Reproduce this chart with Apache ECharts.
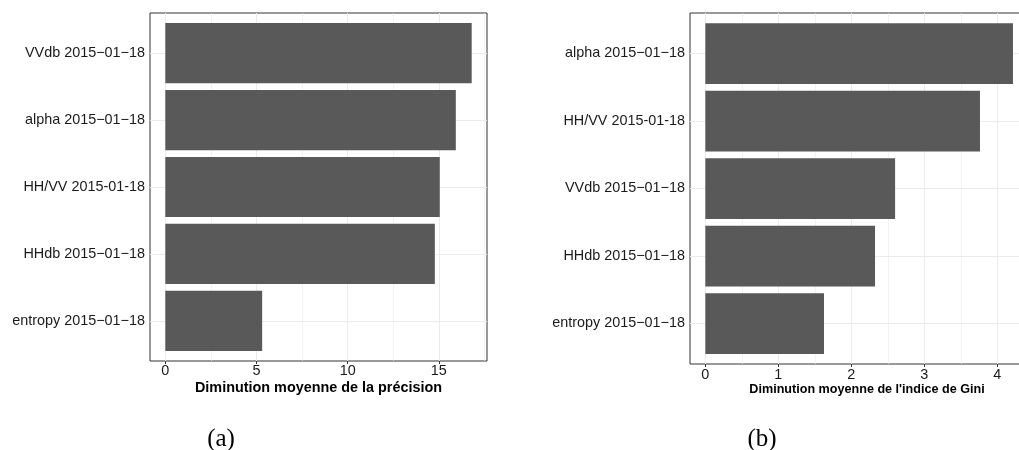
<!DOCTYPE html>
<html>
<head>
<meta charset="utf-8">
<script src="https://cdn.jsdelivr.net/npm/echarts@6/dist/echarts.min.js"></script>
<style>
  html, body { margin: 0; padding: 0; background: #ffffff; }
  #chart { width: 1019px; height: 450px; }
</style>
</head>
<body>
<div id="chart"></div>
<script>
// ---- data ----
const leftCategories = ['VVdb 2015\u221201\u221218', 'alpha 2015\u221201\u221218', 'HH/VV 2015-01-18', 'HHdb 2015\u221201\u221218', 'entropy 2015\u221201\u221218'];
const leftValues = [16.8, 15.93, 15.05, 14.78, 5.31];
const leftMajorTicks = [0, 5, 10, 15];
const leftMinorTicks = [2.5, 7.5, 12.5, 17.5];
const leftTitle = 'Diminution moyenne de la précision';
const leftCaption = '(a)';

const rightCategories = ['alpha 2015\u221201\u221218', 'HH/VV 2015-01-18', 'VVdb 2015\u221201\u221218', 'HHdb 2015\u221201\u221218', 'entropy 2015\u221201\u221218'];
const rightValues = [4.215, 3.763, 2.60, 2.325, 1.626];
const rightMajorTicks = [0, 1, 2, 3, 4];
const rightMinorTicks = [0.5, 1.5, 2.5, 3.5, 4.5];
const rightTitle = "Diminution moyenne de l'indice de Gini";
const rightCaption = '(b)';

// ---- styling / layout ----
const FONT = '"Liberation Sans", Arial, Helvetica, sans-serif';
const GRID_COLOR = '#ebebeb';
const BORDER_COLOR = '#333333';
const BAR_COLOR = '#595959';

function panel(cfg, gi, xi, yi) {
  const frameTop = cfg.top, frameH = cfg.height;
  const unit = frameH / 5.2;
  const grids = [
    { left: cfg.left, top: frameTop, width: cfg.width, height: frameH, show: true,
      borderColor: BORDER_COLOR, borderWidth: 1, backgroundColor: 'transparent',
      containLabel: false, outerBoundsMode: 'none' },
    { left: cfg.left, top: frameTop + unit * 0.1, width: cfg.width, height: unit * 5, show: false,
      containLabel: false, outerBoundsMode: 'none' }
  ];
  const xAxes = [
    { gridIndex: gi, type: 'value', min: cfg.min, max: cfg.max, position: 'bottom',
      axisLine: { show: false },
      axisTick: { show: true, length: 3, lineStyle: { color: BORDER_COLOR, width: 1 }, customValues: cfg.major },
      axisLabel: { show: true, customValues: cfg.major, margin: cfg.labelMargin, fontFamily: FONT, fontSize: 14.4, color: '#1a1a1a' },
      splitLine: { show: true, lineStyle: { color: GRID_COLOR, width: 1 } },
      name: cfg.title, nameLocation: 'middle', nameGap: cfg.nameGap, nameMoveOverlap: false,
      nameTextStyle: { fontFamily: FONT, fontWeight: 'bold', fontSize: cfg.titleSize, color: '#000000' }
    },
    { gridIndex: gi, type: 'value', min: cfg.min, max: cfg.max, position: 'bottom',
      axisLine: { show: false },
      axisTick: { show: false, customValues: cfg.minor },
      axisLabel: { show: false, customValues: cfg.minor },
      splitLine: { show: true, lineStyle: { color: GRID_COLOR, width: 0.6 } }
    },
    { gridIndex: gi + 1, type: 'value', min: cfg.min, max: cfg.max, show: false }
  ];
  const yAxes = [
    { gridIndex: gi, type: 'value', show: false, min: 0, max: 1 },
    { gridIndex: gi + 1, type: 'category', inverse: true, data: cfg.categories,
      axisLine: { show: false },
      axisTick: { show: true, alignWithLabel: true, length: 3, lineStyle: { color: BORDER_COLOR, width: 1 } },
      axisLabel: { fontFamily: FONT, fontSize: 14.4, color: '#1a1a1a', margin: 5 },
      splitLine: { show: false }
    }
  ];
  const series = [{
    type: 'bar', xAxisIndex: xi + 2, yAxisIndex: yi + 1,
    data: cfg.values, barWidth: '90%',
    itemStyle: { color: BAR_COLOR },
    silent: true, z: 2,
    markLine: {
      silent: true, symbol: 'none', z: 1, animation: false,
      label: { show: false },
      lineStyle: { color: GRID_COLOR, width: 1, type: 'solid' },
      data: cfg.categories.map(function (c) { return { yAxis: c }; })
    }
  }];
  return { grids, xAxes, yAxes, series };
}

const L = panel({ left: 150, top: 13, width: 337, height: 348, min: -0.84, max: 17.64,
  major: leftMajorTicks, minor: leftMinorTicks, categories: leftCategories, values: leftValues,
  title: leftTitle, titleSize: 14.4, nameGap: 20, labelMargin: 3 }, 0, 0, 0);
const R = panel({ left: 690, top: 13, width: 354, height: 351, min: -0.21, max: 4.64,
  major: rightMajorTicks, minor: rightMinorTicks, categories: rightCategories, values: rightValues,
  title: rightTitle, titleSize: 12.6, nameGap: 19, labelMargin: 4.5 }, 2, 3, 2);

const CAPTION_FONT = '25px "Liberation Serif", "DejaVu Serif", serif';
const option = {
  animation: false,
  backgroundColor: '#ffffff',
  grid: L.grids.concat(R.grids),
  xAxis: L.xAxes.concat(R.xAxes),
  yAxis: L.yAxes.concat(R.yAxes),
  series: L.series.concat(R.series),
  graphic: [
    { type: 'text', x: 221, y: 427, style: { text: leftCaption, font: CAPTION_FONT, fill: '#000', align: 'center', verticalAlign: 'top' } },
    { type: 'text', x: 762, y: 427, style: { text: rightCaption, font: CAPTION_FONT, fill: '#000', align: 'center', verticalAlign: 'top' } }
  ]
};

const chart = echarts.init(document.getElementById('chart'), null, { renderer: 'canvas' });
chart.setOption(option);
</script>
</body>
</html>
